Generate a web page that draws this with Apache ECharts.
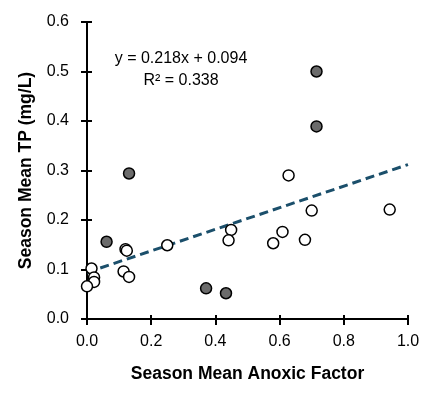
<!DOCTYPE html>
<html>
<head>
<meta charset="utf-8">
<script src="https://cdn.jsdelivr.net/npm/echarts@6/dist/echarts.min.js"></script>
<style>
  html, body { margin: 0; padding: 0; background: #fff; }
  #main { width: 442px; height: 394px; }
</style>
</head>
<body>
<div id="main"></div>
<script>
// open (white) markers
const openX = [0.628, 0.943, 0.700, 0.609, 0.580, 0.679, 0.449, 0.441, 0.250, 0.120, 0.124, 0.114, 0.131, 0.014, 0.022, 0.022, 0.000];
const openY = [0.290, 0.221, 0.219, 0.176, 0.153, 0.160, 0.180, 0.159, 0.149, 0.141, 0.138, 0.096, 0.085, 0.102, 0.084, 0.075, 0.066];
// filled (grey) markers
const filledX = [0.715, 0.715, 0.131, 0.061, 0.371, 0.433];
const filledY = [0.500, 0.389, 0.294, 0.156, 0.062, 0.052];
// regression
const slope = 0.218;
const intercept = 0.094;
const fitRange = [0, 1];

const chart = echarts.init(document.getElementById('main'));
const font = '"Liberation Sans", Arial, sans-serif';

const pairs = (xs, ys) => xs.map((x, i) => [x, ys[i]]);

const axisLine = { show: true, onZero: false, lineStyle: { color: '#000', width: 2 } };

chart.setOption({
  backgroundColor: '#fff',
  animation: false,
  grid: { left: 87, right: 34, top: 22, bottom: 75 },
  xAxis: [
    {
      type: 'value', min: 0, max: 1, interval: 0.2,
      axisLine: axisLine,
      axisTick: { show: true, length: 6, lineStyle: { color: '#000', width: 2 } },
      axisLabel: { color: '#000', fontSize: 16, fontFamily: font, margin: 15,
        formatter: v => v.toFixed(1) },
      splitLine: { show: false },
      name: 'Season Mean Anoxic Factor', nameLocation: 'middle', nameGap: 46,
      nameTextStyle: { color: '#000', fontSize: 17.5, fontWeight: 'bold', fontFamily: font }
    },
    {
      type: 'value', min: 0, max: 1, interval: 0.2, position: 'bottom',
      axisLine: { show: false },
      axisTick: { show: true, inside: true, length: 4, lineStyle: { color: '#000', width: 2 } },
      axisLabel: { show: false }, splitLine: { show: false }
    }
  ],
  yAxis: [
    {
      type: 'value', min: 0, max: 0.6, interval: 0.1,
      axisLine: axisLine,
      axisTick: { show: true, length: 6, lineStyle: { color: '#000', width: 2 } },
      axisLabel: { color: '#000', fontSize: 16, fontFamily: font, margin: 18,
        formatter: v => v.toFixed(1) },
      splitLine: { show: false },
      name: 'Season Mean TP (mg/L)', nameLocation: 'middle', nameGap: 52,
      nameTextStyle: { color: '#000', fontSize: 17.5, fontWeight: 'bold', fontFamily: font }
    },
    {
      type: 'value', min: 0, max: 0.6, interval: 0.1, position: 'left',
      axisLine: { show: false },
      axisTick: { show: true, inside: true, length: 5, lineStyle: { color: '#000', width: 2 } },
      axisLabel: { show: false }, splitLine: { show: false }
    }
  ],
  series: [
    {
      type: 'line',
      data: fitRange.map(x => [x, slope * x + intercept]),
      showSymbol: false,
      lineStyle: { color: '#1b4f6b', width: 3, type: [9, 5] },
      z: 1
    },
    {
      type: 'scatter',
      data: pairs(openX, openY),
      symbolSize: 11,
      itemStyle: { color: '#fff', borderColor: '#000', borderWidth: 1.5, opacity: 1 },
      z: 3
    },
    {
      type: 'scatter',
      data: pairs(filledX, filledY),
      symbolSize: 11,
      itemStyle: { color: '#6b6b6b', borderColor: '#000', borderWidth: 1.5, opacity: 1 },
      z: 3
    }
  ],
  graphic: [
    {
      type: 'text', x: 181, y: 51,
      style: { text: 'y = 0.218x + 0.094', fill: '#000', font: '16px ' + font, textAlign: 'center' }
    },
    {
      type: 'text', x: 181, y: 73,
      style: { text: 'R² = 0.338', fill: '#000', font: '16px ' + font, textAlign: 'center' }
    }
  ]
});
</script>
</body>
</html>
